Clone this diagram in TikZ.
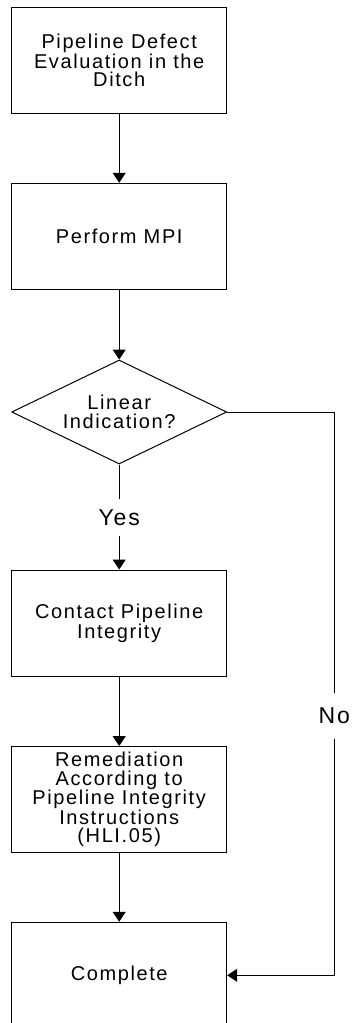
\documentclass[tikz,border=0pt]{standalone}
\usepackage{fontspec}
\setmainfont{Liberation Sans}[LetterSpace=8]
\usetikzlibrary{shapes.geometric,arrows.meta}

\begin{document}
\begin{tikzpicture}[x=1pt, y=-1pt,
    box/.style={draw, line width=1pt, minimum width=215pt, minimum height=106pt,
      inner sep=0pt, align=center, font=\fontsize{20}{18.5}\selectfont},
    dec/.style={draw, diamond, shape aspect=2.07, line width=1pt, minimum width=215pt,
      minimum height=104pt, inner sep=0pt, align=center, font=\fontsize{20}{18.5}\selectfont},
    lbl/.style={inner sep=0pt, font=\fontsize{23}{24}\selectfont},
    flow/.style={line width=1pt, -{Triangle[length=10pt,width=13pt]}}]
      \useasboundingbox (0, 0) rectangle (353, 1023);
      \node[box] (defect) at (119.2, 60.3) {Pipeline Defect\\Evaluation in the\\Ditch};
      \node[box] (mpi) at (119.2, 236.3) {Perform MPI};
      \node[dec] (linear) at (119.2, 412) {Linear\\Indication?};
      \node[lbl, minimum height=37pt] (yes) at (119.2, 517.5) {Yes};
      \node[box] (contact) at (119.2, 623) {Contact Pipeline\\Integrity};
      \node[box] (remed) at (119.2, 799.5) {Remediation\\According to\\Pipeline Integrity\\Instructions\\(HLI.05)};
      \node[box] (complete) at (119.2, 975.3) {Complete};
      \node[lbl, minimum height=46pt] (no) at (334.3, 716) {No};
      \draw[flow] (defect) -- (mpi);
      \draw[flow] (mpi) -- (linear);
      \draw[line width=1pt] (linear) -- (yes);
      \draw[flow] (yes) -- (contact);
      \draw[flow] (contact) -- (remed);
      \draw[flow] (remed) -- (complete);
      \draw[line width=1pt] (linear.east) -| (no.north);
      \draw[flow] (no.south) |- (complete.east);
\end{tikzpicture}
\end{document}
